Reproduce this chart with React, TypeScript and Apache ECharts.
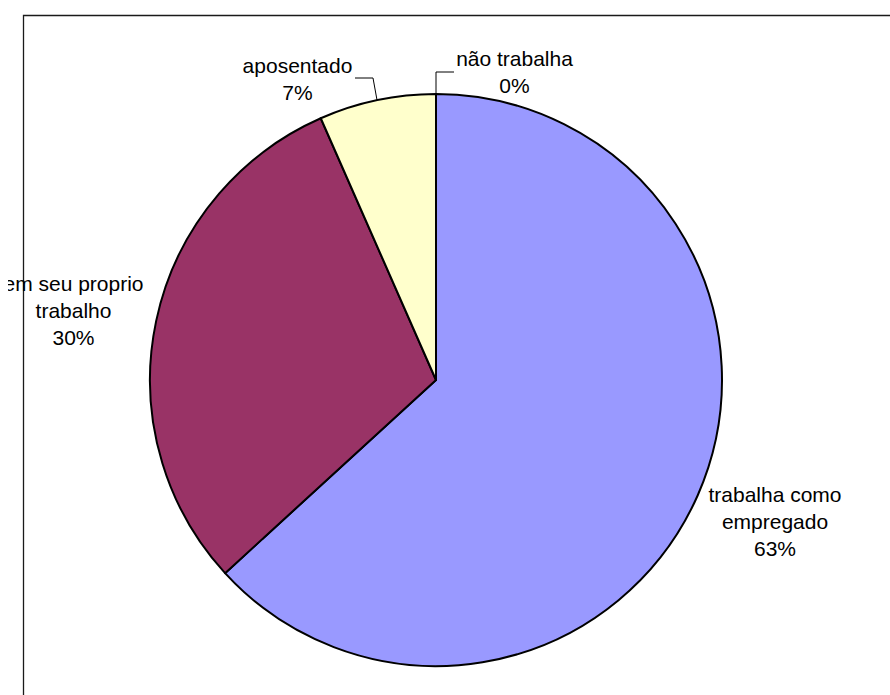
import React, { useEffect, useRef } from "react";
import * as echarts from "echarts";

const categories = [
  "trabalha como empregado",
  "em seu proprio trabalho",
  "aposentado",
  "não trabalha",
];
const labelNames = [
  "trabalha como\nempregado",
  "em seu proprio\ntrabalho",
  "aposentado",
  "não trabalha",
];
const values = [63.2, 30.2, 6.6, 0];
const colors = ["#9999FF", "#993366", "#FFFFCC", "#FFFFFF"];

// label layout (chart coords): centre of each label block
const labelPos = [
  { x: 767, y: 521 },
  { x: 65.5, y: 310 },
  { x: 289.5, y: 78.5 },
  { x: 506.5, y: 71.5 },
];
const leaderLines: (number[][] | null)[] = [
  null,
  null,
  [
    [369, 100],
    [365, 78],
    [347, 78],
  ],
  [
    [428, 94],
    [428, 72],
    [446, 72],
  ],
];

export default function App() {
  const ref = useRef<HTMLDivElement>(null);
  useEffect(() => {
    if (!ref.current) return;
    const chart = echarts.init(ref.current, null, { renderer: "svg" });
    chart.setOption({
      animation: false,
      backgroundColor: "#ffffff",
      graphic: [
        {
          type: "rect",
          z: -10,
          silent: true,
          shape: { x: 15.5, y: 15.5, width: 1000, height: 1000 },
          style: { fill: "#ffffff", stroke: "#1a1a1a", lineWidth: 1.3 },
        },
      ],
      series: [
        {
          type: "pie",
          center: [428, 380],
          radius: [0, 286],
          startAngle: 90,
          clockwise: true,
          avoidLabelOverlap: false,
          minShowLabelAngle: -1,
          itemStyle: { borderColor: "#000000", borderWidth: 2 },
          emphasis: { disabled: true },
          label: {
            show: true,
            position: "outside",
            color: "#000000",
            fontFamily: "Liberation Sans, Arial, sans-serif",
            fontSize: 21,
            lineHeight: 27,
            align: "center",
            formatter: (p: any) =>
              labelNames[p.dataIndex] + "\n" + Math.round(p.percent) + "%",
          },
          labelLine: {
            show: true,
            lineStyle: { color: "#000000", width: 1 },
          },
          labelLayout: (p: any) => {
            const pos = labelPos[p.dataIndex];
            const res: any = {
              x: pos.x,
              y: pos.y,
              align: "center",
              verticalAlign: "middle",
            };
            const pts = leaderLines[p.dataIndex];
            if (pts) res.labelLinePoints = pts;
            return res;
          },
          data: categories.map((name, i) => ({
            name,
            value: values[i],
            itemStyle: { color: colors[i] },
            labelLine: { show: leaderLines[i] !== null },
          })),
        },
      ],
    });
    return () => chart.dispose();
  }, []);
  return (
    <div
      ref={ref}
      style={{ position: "fixed", left: 8, top: 0, width: 882, height: 695 }}
    />
  );
}
